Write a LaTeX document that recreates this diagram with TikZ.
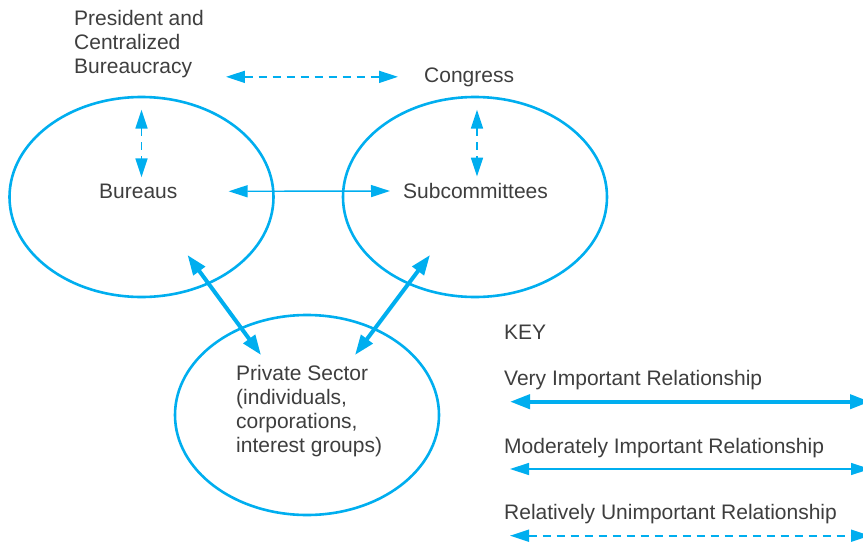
\documentclass[tikz,border=0pt]{standalone}
\usepackage{fontspec}
\setmainfont{Liberation Sans}
\usetikzlibrary{shapes.geometric,arrows.meta,calc}
\definecolor{keyblue}{RGB}{0,174,239}
\definecolor{txtgray}{RGB}{62,62,62}
\tikzset{
  group/.style={draw=keyblue, line width=2.6pt, ellipse, minimum width=264pt, minimum height=200pt, inner sep=0pt},
  lbl/.style={inner sep=0pt, align=left, text=txtgray, font=\fontsize{21}{24}\selectfont},
  strong/.style={keyblue, line width=4pt, {Triangle[length=20pt,width=14pt]}-{Triangle[length=20pt,width=14pt]}},
  moderate/.style={keyblue, line width=1.4pt, {Triangle[length=19pt,width=12pt]}-{Triangle[length=19pt,width=12pt]}},
  weak/.style={moderate, line width=1.7pt, dash pattern=on 8pt off 6pt}
}
\begin{document}
\begin{tikzpicture}[x=1pt, y=-1pt]
  \useasboundingbox (0,0) rectangle (863,544);
  % The three groups
  \node[group] (lell) at (141.5,197) {};
  \node[group] (rell) at (475,197) {};
  \node[group] (pell) at (307,415) {};

  % Labels
  \node[lbl, anchor=north west] (pres) at (74,9.7) {President and\\Centralized\\Bureaucracy};
  \node[lbl, anchor=base west] (cong) at (424,82) {Congress};
  \node[lbl, anchor=base west] (bur) at (99,198.5) {Bureaus};
  \node[lbl, anchor=base west] (sub) at (403,198.5) {Subcommittees};
  \node[lbl, anchor=north west] (priv) at (236,365) {Private Sector\\(individuals,\\corporations,\\interest groups)};

  % Relationships
  \draw[weak, shorten <=22pt, shorten >=26pt] (pres.east |- cong.west) -- (cong.west); % President -- Congress
  \draw[weak, shorten <=14pt, shorten >=6.5pt] (lell.north) -- (lell.north |- bur.north); % President -- Bureaus
  \draw[weak, shorten <=14pt, shorten >=6.5pt] ([xshift=2pt]rell.north) -- ([xshift=2pt]rell.north |- sub.north); % Congress -- Subcommittees
  \draw[moderate, shorten <=51pt, shorten >=13pt] (bur.east) -- (sub.west); % Bureaus -- Subcommittees
  \draw[strong] ($(lell)+(46,58)$) -- ($(pell)+(-46,-60)$); % Bureaus -- Private Sector
  \draw[strong] ($(rell)+(-45,58)$) -- ($(pell)+(48,-60)$); % Subcommittees -- Private Sector

  % Key
  \node[lbl, anchor=base west] (key) at (504,339) {KEY};
  \node[lbl, anchor=base west] (vip) at (504,385) {Very Important Relationship};
  \node[lbl, anchor=base west] (mip) at (504,453) {Moderately Important Relationship};
  \node[lbl, anchor=base west] (rup) at (504,519) {Relatively Unimportant Relationship};
  \draw[strong] ([shift={(6,16.7)}]vip.base west) -- ([shift={(366,16.7)}]vip.base west);
  \draw[moderate] ([shift={(6,16)}]mip.base west) -- ([shift={(366,16)}]mip.base west);
  \draw[weak] ([shift={(6,16.7)}]rup.base west) -- ([shift={(366,16.7)}]rup.base west);
\end{tikzpicture}
\end{document}
